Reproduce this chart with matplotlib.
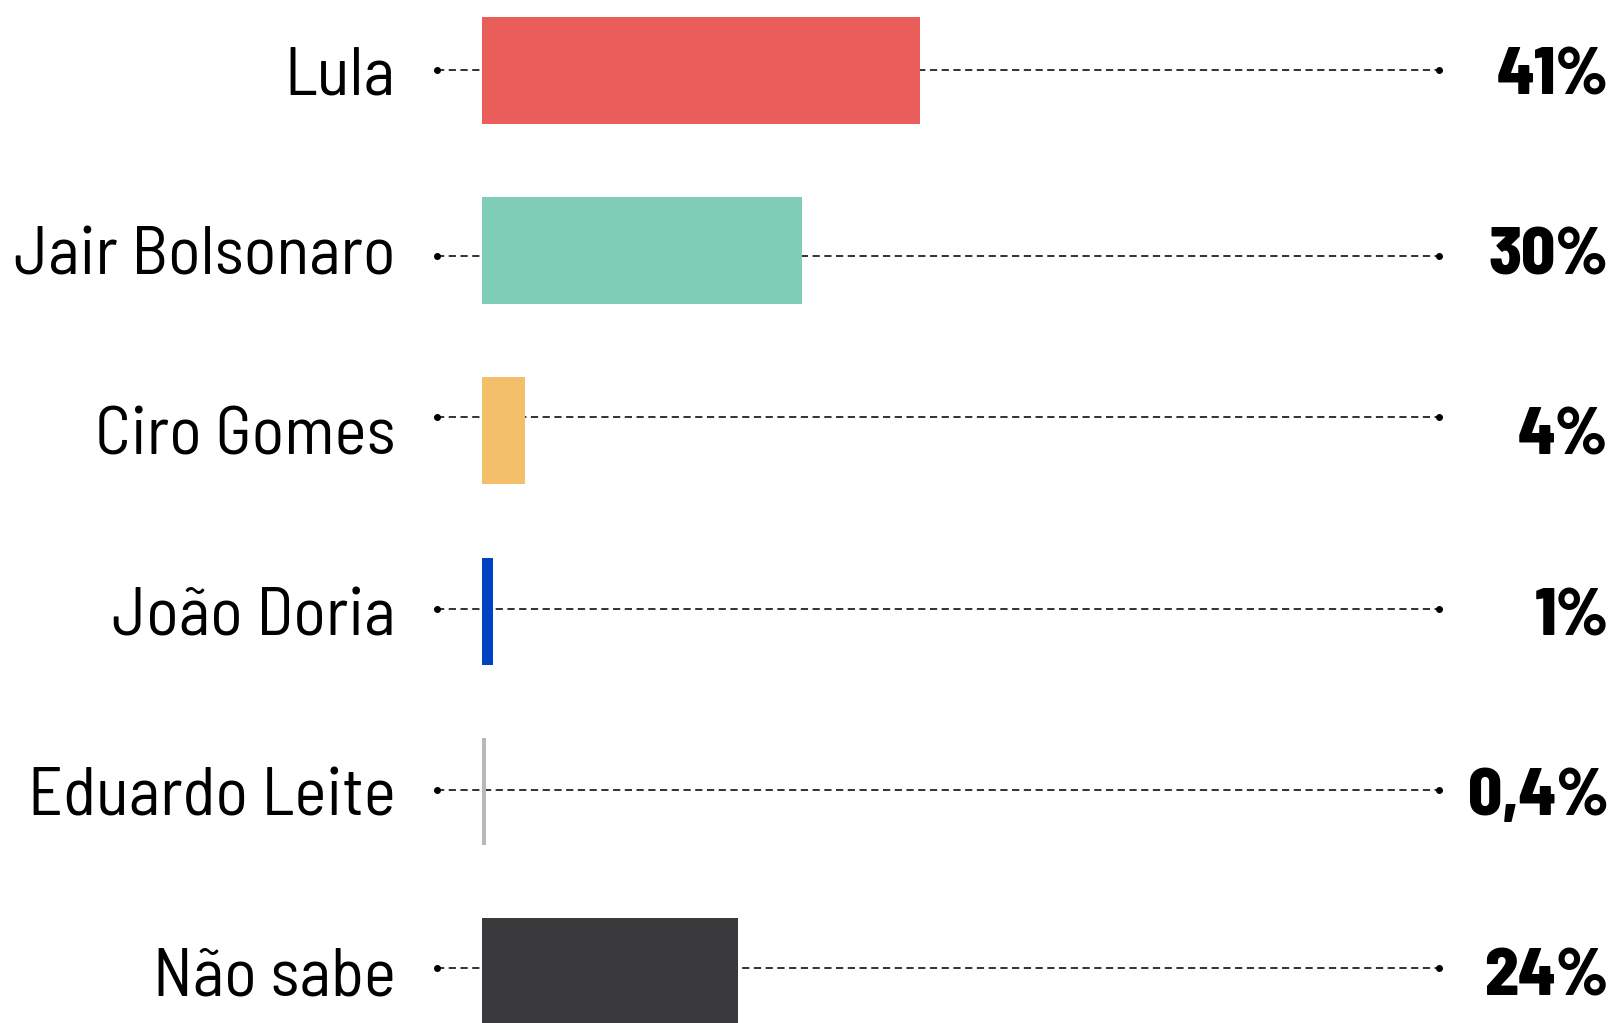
import matplotlib
matplotlib.use("Agg")
import matplotlib.pyplot as plt

names = ["Lula", "Jair Bolsonaro", "Ciro Gomes", "João Doria", "Eduardo Leite", "Não sabe"]
values = [41, 30, 4, 1, 0.4, 24]
value_labels = ["41%", "30%", "4%", "1%", "0,4%", "24%"]
colors = ["#E95E5B", "#7FCDB6", "#F4BF6B", "#0043C0", "#B8B8B8", "#3A3A3C"]
# small vertical nudges of the dotted guides, in row units
guide_shift = [0.0, 0.03, -0.075, -0.014, -0.008, -0.02]

label_font = ["Barlow Semi Condensed", "DejaVu Sans"]

fig = plt.figure(figsize=(16.15, 10.23), dpi=100)
ax = fig.add_axes([0.2985, 0, 0.7015, 1])
ax.set_xlim(0, 106.1)
ax.set_ylim(5.286, -0.391)
ax.axis("off")

rows = list(range(len(names)))
ax.barh(rows, values, height=0.594, color=colors, zorder=2)

for i, name in enumerate(names):
    gy = i + guide_shift[i]
    ax.plot([-4.2, 89.6], [gy, gy], color="#222222", lw=1.3,
            dashes=(4, 2.5), zorder=1, clip_on=False)
    ax.plot([-4.2, 89.6], [gy, gy], "o", color="black", ms=4,
            zorder=1, clip_on=False)
    ax.annotate(name, (-8.1, i), xytext=(0, -17.3), textcoords="offset points",
                ha="right", va="baseline", fontsize=49, family=label_font,
                color="black", annotation_clip=False)
    ax.annotate(value_labels[i], (105.5, i), xytext=(0, -17.3),
                textcoords="offset points", ha="right", va="baseline",
                fontsize=48, family=label_font, fontweight=800,
                color="black", annotation_clip=False)

fig.savefig("out.png", dpi=100)
